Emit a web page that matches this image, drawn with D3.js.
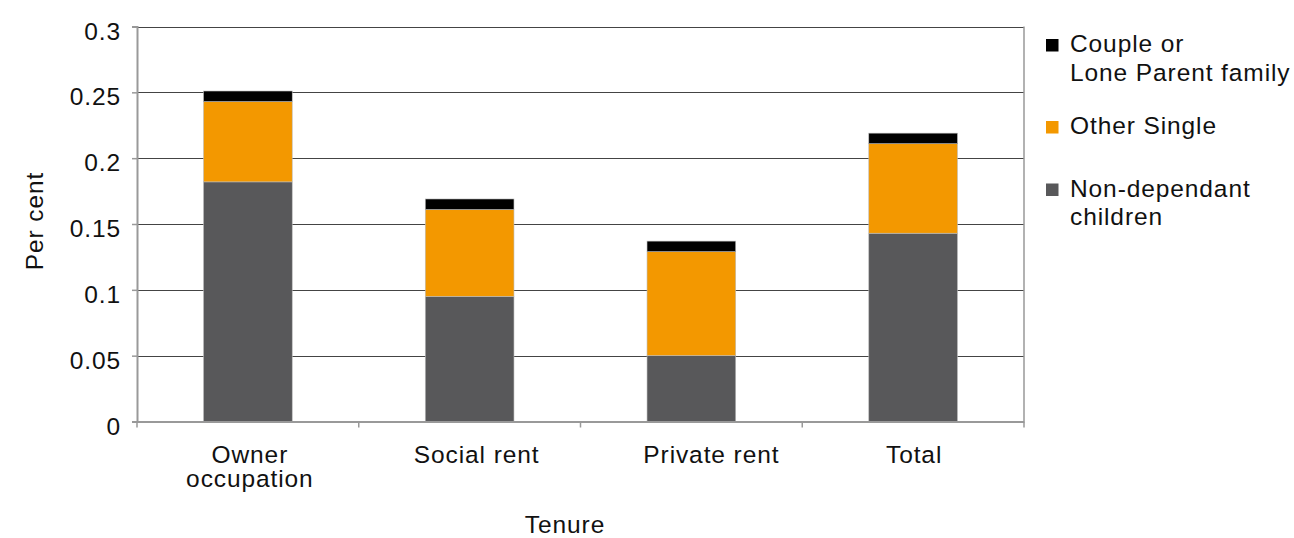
<!DOCTYPE html>
<html><head><meta charset="utf-8">
<script src="https://cdn.jsdelivr.net/npm/d3@7"></script>
<style>body{margin:0;background:#fff}svg{display:block;font-family:"Liberation Sans",Arial,sans-serif}svg text{letter-spacing:0.9px}</style>
</head><body><svg id="c" width="1294" height="538"></svg>
<script>
const categories = ["Owner occupation", "Social rent", "Private rent", "Total"];
const categoryLines = [["Owner", "occupation"], ["Social rent"], ["Private rent"], ["Total"]];
const seriesNames = ["Non-dependant children", "Other Single", "Couple or Lone Parent family"];
const nonDependant = [0.182, 0.095, 0.050, 0.143];
const otherSingle = [0.061, 0.066, 0.079, 0.068];
const couple = [0.008, 0.008, 0.008, 0.008];
const yTicks = [0, 0.05, 0.1, 0.15, 0.2, 0.25, 0.3];
const colors = ["#58585a", "#f39800", "#000000"];

const FS = 24.5;
const svg = d3.select("#c");
const L = 137, R = 1024, T = 26.5, B = 421.5;
const x = d3.scaleBand().domain(categories).range([L, R]).paddingInner(0.6).paddingOuter(0.3);
const xTick = d3.scaleBand().domain(categories).range([L, R]);
const y = d3.scaleLinear().domain([0, 0.3]).range([B, T]);

// gridlines
svg.append("g").selectAll("line").data(yTicks.filter(d => d > 0)).join("line")
  .attr("x1", L).attr("x2", R).attr("y1", d => Math.round(y(d)) + 0.5).attr("y2", d => Math.round(y(d)) + 0.5)
  .attr("stroke", "#444").attr("stroke-width", 1);

// stacks
const rows = categories.map((c, i) => ({cat: c, s0: nonDependant[i], s1: otherSingle[i], s2: couple[i]}));
const stack = d3.stack().keys(["s0", "s1", "s2"])(rows);
svg.append("g").selectAll("g").data(stack).join("g").attr("fill", (d, i) => colors[i])
  .selectAll("rect").data(d => d).join("rect")
  .attr("x", d => x(d.data.cat)).attr("width", x.bandwidth())
  .attr("y", d => y(d[1])).attr("height", d => y(d[0]) - y(d[1]))
  .attr("stroke", "#bbb").attr("stroke-width", 0.6);

// axes frame
svg.append("line").attr("x1", R).attr("x2", R).attr("y1", T).attr("y2", B).attr("stroke", "#999").attr("stroke-width", 1.5);
const yAxis = d3.axisLeft(y).tickValues(yTicks).tickSize(5).tickFormat(d => String(d));
const gy = svg.append("g").attr("transform", `translate(${L},0)`).call(yAxis);
gy.select(".domain").attr("stroke", "#999").attr("stroke-width", 2);
gy.selectAll(".tick line").attr("stroke", "#999").attr("stroke-width", 1.5);
gy.selectAll(".tick text").attr("font-size", FS).attr("fill", "#111").attr("x", -16).attr("dy", 12.5)
  .style("font-family", '"Liberation Sans",Arial,sans-serif');

const xAxis = d3.axisBottom(xTick).tickValues([]).tickSize(0);
const gx = svg.append("g").attr("transform", `translate(0,${B})`).call(xAxis);
gx.select(".domain").attr("stroke", "#999").attr("stroke-width", 2);
const bounds = categories.map(c => xTick(c)).concat([R]);
gx.selectAll(".bt").data(bounds).join("line").attr("class", "bt")
  .attr("x1", d => d).attr("x2", d => d).attr("y1", 0).attr("y2", 6).attr("stroke", "#999").attr("stroke-width", 1.5);

// category labels (small horizontal nudges to match the reference's label placement)
const labelNudge = [2, 7, 20, 1];
const lab = svg.append("g").attr("font-size", FS).attr("fill", "#111").attr("text-anchor", "middle");
categories.forEach((c, i) => {
  const cx = x(c) + x.bandwidth() / 2 + labelNudge[i];
  const t = lab.append("text").attr("x", cx).attr("y", 462.5);
  categoryLines[i].forEach((ln, j) => t.append("tspan").attr("x", cx).attr("dy", j ? 24.5 : 0).text(ln));
});

// axis titles
svg.append("text").attr("x", 565).attr("y", 533).attr("text-anchor", "middle").attr("font-size", FS).attr("fill", "#111").text("Tenure");
svg.append("text").attr("transform", "translate(43,221) rotate(-90)").attr("text-anchor", "middle").attr("font-size", FS).attr("fill", "#111").text("Per cent");

// legend
const legend = [
  {name: seriesNames[2], lines: ["Couple or", "Lone Parent family"], color: colors[2], y: 52},
  {name: seriesNames[1], lines: ["Other Single"], color: colors[1], y: 134},
  {name: seriesNames[0], lines: ["Non-dependant", "children"], color: colors[0], y: 196.5}
];
const lg = svg.append("g").attr("font-size", FS).attr("fill", "#111");
legend.forEach(l => {
  lg.append("rect").attr("x", 1046).attr("y", l.y - 13).attr("width", 12.5).attr("height", 12.5).attr("fill", l.color);
  const t = lg.append("text").attr("x", 1070).attr("y", l.y);
  l.lines.forEach((ln, j) => t.append("tspan").attr("x", 1070).attr("dy", j ? 28.5 : 0).text(ln));
});
</script></body></html>
